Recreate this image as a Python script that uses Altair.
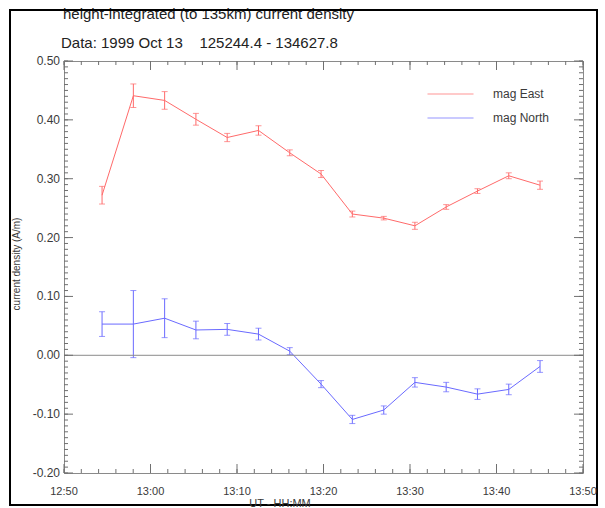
import altair as alt
import pandas as pd

# ---- data ----
date = "1999-10-13"
times = ["12:54:24", "12:58:01", "13:01:38", "13:05:15", "13:08:52", "13:12:29", "13:16:06",
         "13:19:43", "13:23:20", "13:26:58", "13:30:34", "13:34:11", "13:37:48", "13:41:25", "13:45:02"]
east = [0.272, 0.441, 0.433, 0.401, 0.370, 0.382, 0.344, 0.308, 0.240, 0.233, 0.220, 0.252, 0.279, 0.305, 0.289]
east_err = [0.015, 0.020, 0.015, 0.010, 0.007, 0.008, 0.005, 0.006, 0.005, 0.003, 0.006, 0.004, 0.004, 0.005, 0.007]
north = [0.053, 0.053, 0.063, 0.043, 0.044, 0.036, 0.007, -0.049, -0.109, -0.093, -0.046, -0.054, -0.066, -0.058, -0.019]
north_err = [0.021, 0.057, 0.033, 0.015, 0.010, 0.010, 0.006, 0.006, 0.007, 0.007, 0.008, 0.008, 0.009, 0.009, 0.010]
series_names = ["mag East", "mag North"]
series_colors = ["#ff6a6a", "#6a6aff"]
y_major = [-0.2, -0.1, 0.0, 0.1, 0.2, 0.3, 0.4, 0.5]
y_tick_labels = ["-0.20", "-0.10", "0.00", "0.10", "0.20", "0.30", "0.40", "0.50"]
x_major_min = [0, 10, 20, 30, 40, 50, 60]          # minutes after 12:50
x_tick_labels = ["12:50", "13:00", "13:10", "13:20", "13:30", "13:40", "13:50"]
title_lines = ["height-integrated (to 135km) current density",
               "Data: 1999 Oct 13\u00a0\u00a0\u00a0\u00a0125244.4 - 134627.8"]
x_title = "UT - HH:MM"
y_title = "current density (A/m)"

rows = []
for name, vals, errs in ((series_names[0], east, east_err), (series_names[1], north, north_err)):
    for t, v, e in zip(times, vals, errs):
        rows.append({"time": f"{date}T{t}Z", "series": name, "value": v, "lo": v - e, "hi": v + e})
df = pd.DataFrame(rows)


def stamp(m):
    total = 12 * 60 + 50 + m
    return f"{date}T{total // 60:02d}:{total % 60:02d}:00Z"


x_major_df = pd.DataFrame({"t": [stamp(m) for m in x_major_min]})
x_minor_df = pd.DataFrame({"t": [stamp(m) for m in range(0, 61, 2)]})
y_major_df = pd.DataFrame({"v": y_major})
y_minor_df = pd.DataFrame({"v": [round(-0.2 + 0.01 * i, 2) for i in range(71)]})
x_lab_df = pd.DataFrame({"tl": [stamp(m) for m in x_major_min], "lab": x_tick_labels})
y_lab_df = pd.DataFrame({"vl": y_major, "lab": y_tick_labels})
zero_df = pd.DataFrame({"z": [0.0]})

W, H = 519, 412
FONT = "Liberation Sans"
TXT = "#3a3a3a"
TICK = "#707070"


def dt(h, m):
    return alt.DateTime(year=1999, month=10, date=13, hours=h, minutes=m, utc=True)


x_domain = [dt(12, 50), dt(13, 50)]
x_major = [dt(12 + (50 + k) // 60, (50 + k) % 60) for k in x_major_min]

xscale = alt.Scale(type="utc", domain=x_domain, nice=False)
yscale = alt.Scale(domain=[-0.2, 0.5], nice=False, zero=False)
cscale = alt.Scale(domain=series_names, range=series_colors)

legend = alt.Legend(orient="none", legendX=363, legendY=27, title=None,
                    symbolType="stroke", symbolSize=2116, symbolStrokeWidth=1,
                    clipHeight=12, rowPadding=12, padding=0,
                    labelFontSize=12, labelOffset=19, labelColor=TXT, labelFont=FONT)
color = alt.Color("series:N", scale=cscale, legend=legend)

label_x_axis = alt.Axis(values=x_major, labelExpr="utcFormat(datum.value, '%H:%M')", ticks=False,
                        domain=False, grid=False, labelPadding=13, labelFontSize=11, labelColor=TXT,
                        labelFont=FONT, title=x_title, titleX=216, titleY=34, titleBaseline="alphabetic",
                        titleFontSize=11, titleFontWeight="normal", titleColor=TXT, titleFont=FONT,
                        orient="bottom")
label_y_axis = alt.Axis(values=y_major, format=".2f", ticks=False, domain=False, grid=False,
                        labelPadding=4, labelFontSize=12, labelColor=TXT, labelFont=FONT,
                        title=y_title, titleX=-44, titleY=203, titleAngle=270, titleAlign="center",
                        titleBaseline="alphabetic", titleFontSize=10, titleFontWeight="normal",
                        titleColor=TXT, titleFont=FONT, orient="left")

base = alt.Chart(df)

line = base.mark_line(strokeWidth=1).encode(
    x=alt.X("time:T", scale=xscale, axis=label_x_axis),
    y=alt.Y("value:Q", scale=yscale, axis=label_y_axis),
    color=color,
)
err = base.mark_rule(strokeWidth=1).encode(
    x=alt.X("time:T", scale=xscale, axis=None),
    y=alt.Y("lo:Q", scale=yscale, axis=None),
    y2="hi:Q",
    color=color,
)
cap_lo = base.mark_tick(orient="horizontal", size=6, thickness=1).encode(
    x=alt.X("time:T", scale=xscale, axis=None),
    y=alt.Y("lo:Q", scale=yscale, axis=None),
    color=color,
)
cap_hi = base.mark_tick(orient="horizontal", size=6, thickness=1).encode(
    x=alt.X("time:T", scale=xscale, axis=None),
    y=alt.Y("hi:Q", scale=yscale, axis=None),
    color=color,
)

zero = alt.Chart(zero_df).mark_rule(color="#8a8a8a", strokeWidth=1).encode(
    y=alt.Y("z:Q", scale=yscale, axis=None))

# inward pointing ticks on all four sides (major + minor)
tick_layers = []
for xdf, ydf, L in ((x_major_df, y_major_df, 9), (x_minor_df, y_minor_df, 4)):
    tick_layers += [
        alt.Chart(xdf).mark_rule(color=TICK, strokeWidth=1).encode(
            x=alt.X("t:T", scale=xscale), y=alt.value(H), y2=alt.value(H - L)),
        alt.Chart(xdf).mark_rule(color=TICK, strokeWidth=1).encode(
            x=alt.X("t:T", scale=xscale), y=alt.value(0), y2=alt.value(L)),
        alt.Chart(ydf).mark_rule(color=TICK, strokeWidth=1).encode(
            y=alt.Y("v:Q", scale=yscale), x=alt.value(0), x2=alt.value(L)),
        alt.Chart(ydf).mark_rule(color=TICK, strokeWidth=1).encode(
            y=alt.Y("v:Q", scale=yscale), x=alt.value(W), x2=alt.value(W - L)),
    ]

# tick labels and axis titles placed through the scales as text marks
x_labels = alt.Chart(x_lab_df).mark_text(align="center", baseline="top", fontSize=11,
                                         font=FONT, color=TXT).encode(
    x=alt.X("tl:T", scale=xscale, axis=None), y=alt.value(H + 13), text="lab:N")
y_labels = alt.Chart(y_lab_df).mark_text(align="right", baseline="middle", fontSize=12,
                                         font=FONT, color=TXT).encode(
    y=alt.Y("vl:Q", scale=yscale, axis=None), x=alt.value(-4), text="lab:N")

one = alt.Data(values=[{"k": 1}])
xt = alt.Chart(one).mark_text(text=x_title, align="center", baseline="alphabetic", fontSize=11,
                              font=FONT, color=TXT).encode(x=alt.value(216), y=alt.value(H + 34))
yt = alt.Chart(one).mark_text(text=y_title, align="center", baseline="alphabetic", angle=270,
                              fontSize=10, font=FONT, color=TXT).encode(
    x=alt.value(-44), y=alt.value(203))
t1 = alt.Chart(one).mark_text(text=title_lines[0], align="left", baseline="alphabetic",
                              fontSize=15, font=FONT, color="#222222").encode(
    x=alt.value(-1), y=alt.value(-42))
t2 = alt.Chart(one).mark_text(text=title_lines[1], align="left", baseline="alphabetic",
                              fontSize=15, font=FONT, color="#222222").encode(
    x=alt.value(-3), y=alt.value(-13))
frame = alt.Chart(one).mark_rect(filled=False, stroke="#000000", strokeWidth=2).encode(
    x=alt.value(-54), x2=alt.value(533), y=alt.value(-51), y2=alt.value(444))

chart = alt.layer(line, err, cap_lo, cap_hi, zero, *tick_layers, t1, t2, frame,
                  x_labels, y_labels, xt, yt).properties(
    width=W, height=H,
    autosize=alt.AutoSizeParams(type="none"),
    padding={"left": 64, "top": 61, "right": 22, "bottom": 35},
    background="white",
).configure_view(stroke="#8a8a8a", strokeWidth=1)

chart.save("out.html", embed_options={"renderer": "svg", "actions": False})
